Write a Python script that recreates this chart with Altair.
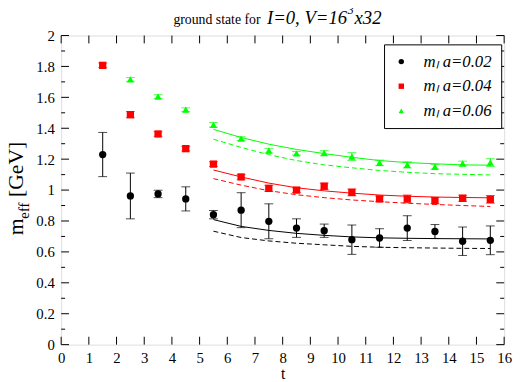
import altair as alt
import pandas as pd

# ---------------- data ----------------
series = ["m\u2097 a=0.02", "m\u2097 a=0.04", "m\u2097 a=0.06"]
keys = ["k002", "k004", "k006"]
colors = ["#000000", "#ff0000", "#00ff00"]
shapes = ["circle", "square", "triangle-up"]

t_002 = [1.5, 2.5, 3.5, 4.5, 5.5, 6.5, 7.5, 8.5, 9.5, 10.5, 11.5, 12.5, 13.5, 14.5, 15.5]
m_002 = [1.230, 0.962, 0.975, 0.943, 0.841, 0.870, 0.798, 0.754, 0.737, 0.679, 0.690, 0.754, 0.732, 0.669, 0.675]
e_002 = [0.143, 0.148, 0.024, 0.078, 0.027, 0.113, 0.113, 0.060, 0.043, 0.095, 0.060, 0.080, 0.045, 0.092, 0.093]

t_004 = [1.5, 2.5, 3.5, 4.5, 5.5, 6.5, 7.5, 8.5, 9.5, 10.5, 11.5, 12.5, 13.5, 14.5, 15.5]
m_004 = [1.807, 1.488, 1.363, 1.268, 1.168, 1.085, 1.011, 1.000, 1.025, 0.985, 0.943, 0.943, 0.932, 0.947, 0.940]
e_004 = [0.015, 0.020, 0.015, 0.015, 0.015, 0.015, 0.020, 0.015, 0.020, 0.022, 0.018, 0.025, 0.020, 0.020, 0.025]

t_006 = [2.5, 3.5, 4.5, 5.5, 6.5, 7.5, 8.5, 9.5, 10.5, 11.5, 12.5, 13.5, 14.5, 15.5]
m_006 = [1.716, 1.605, 1.520, 1.422, 1.333, 1.255, 1.238, 1.240, 1.217, 1.176, 1.163, 1.151, 1.172, 1.178]
e_006 = [0.012, 0.012, 0.012, 0.015, 0.012, 0.015, 0.012, 0.015, 0.025, 0.018, 0.020, 0.015, 0.015, 0.025]

t_fit = [5.5, 6.5, 7.5, 8.5, 9.5, 10.5, 11.5, 12.5, 13.5, 14.5, 15.5]
solid_002 = [0.809, 0.765, 0.739, 0.720, 0.707, 0.697, 0.691, 0.688, 0.686, 0.685, 0.684]
dash_002 = [0.734, 0.693, 0.671, 0.656, 0.646, 0.636, 0.630, 0.627, 0.625, 0.623, 0.622]
solid_004 = [1.130, 1.085, 1.045, 1.015, 0.995, 0.980, 0.968, 0.960, 0.955, 0.952, 0.950]
dash_004 = [1.074, 1.032, 0.996, 0.970, 0.951, 0.936, 0.925, 0.915, 0.907, 0.900, 0.894]
solid_006 = [1.393, 1.340, 1.297, 1.263, 1.236, 1.212, 1.191, 1.178, 1.170, 1.163, 1.161]
dash_006 = [1.329, 1.276, 1.229, 1.191, 1.163, 1.144, 1.127, 1.115, 1.106, 1.102, 1.098]

x_ticks = [0, 1, 2, 3, 4, 5, 6, 7, 8, 9, 10, 11, 12, 13, 14, 15, 16]
y_major = [0.0, 0.2, 0.4, 0.6, 0.8, 1.0, 1.2, 1.4, 1.6, 1.8, 2.0]
y_minor = [0.1, 0.3, 0.5, 0.7, 0.9, 1.1, 1.3, 1.5, 1.7, 1.9]

# ---------------- tables ----------------
pts = pd.concat([
    pd.DataFrame({"t": t, "m": m, "err": e, "s": s, "key": k})
    for t, m, e, s, k in [(t_002, m_002, e_002, series[0], keys[0]),
                          (t_004, m_004, e_004, series[1], keys[1]),
                          (t_006, m_006, e_006, series[2], keys[2])]
], ignore_index=True)
pts["lo"] = pts["m"] - pts["err"]
pts["hi"] = pts["m"] + pts["err"]

fits = pd.concat([
    pd.DataFrame({"t": t_fit, "m": v, "key": key, "k": k})
    for v, key, k in [(solid_002, keys[0], "solid"), (dash_002, keys[0], "dash"),
                      (solid_004, keys[1], "solid"), (dash_004, keys[1], "dash"),
                      (solid_006, keys[2], "solid"), (dash_006, keys[2], "dash")]
], ignore_index=True)

W, H = 450, 314
FONT = "Liberation Serif"

xs = alt.Scale(domain=[0, 16], nice=False, zero=False)
ys = alt.Scale(domain=[0, 2], nice=False, zero=False)
xaxis = alt.Axis(values=x_ticks, ticks=False, domain=False, grid=False, format="d",
                 labelFont=FONT, labelFontSize=15, labelPadding=6, labelFlush=False,
                 labelColor="black", title="t", titleFont=FONT, titleFontSize=16,
                 titleFontWeight="normal", titlePadding=0, titleColor="black")
yaxis = alt.Axis(values=y_major, ticks=False, domain=False, grid=False, format=".1~f",
                 labelFont=FONT, labelFontSize=15, labelPadding=7, labelFlush=False,
                 labelColor="black", title=None)
X = alt.X("t:Q", scale=xs, axis=xaxis)
Y = alt.Y("m:Q", scale=ys, axis=yaxis)
cscale = alt.Scale(domain=series, range=colors)
sscale = alt.Scale(domain=series, range=shapes)
kscale = alt.Scale(domain=keys, range=colors)
STROKE = alt.Stroke("key:N", scale=kscale, legend=None)
FILL = alt.Fill("key:N", scale=kscale, legend=None)

base = alt.Chart(pts)

errbars = base.mark_rule(strokeWidth=1).encode(
    x=X, y=alt.Y("lo:Q", scale=ys, axis=yaxis), y2="hi:Q", stroke=STROKE)
cap_lo = base.mark_tick(orient="horizontal", size=9, thickness=1, strokeWidth=0).encode(
    x=X, y=alt.Y("lo:Q", scale=ys, axis=yaxis), fill=FILL)
cap_hi = base.mark_tick(orient="horizontal", size=9, thickness=1, strokeWidth=0).encode(
    x=X, y=alt.Y("hi:Q", scale=ys, axis=yaxis), fill=FILL)

legend = alt.Legend(orient="none", legendX=328, legendY=9, title=None,
                    strokeColor="black", fillColor="white", padding=9,
                    labelFont=FONT, labelFontStyle="italic", labelFontSize=17,
                    labelColor="black", symbolSize=30, symbolStrokeWidth=0,
                    rowPadding=7, labelOffset=14, cornerRadius=0)
points = base.mark_point(filled=True, size=55, opacity=1).encode(
    x=X, y=Y,
    color=alt.Color("s:N", scale=cscale, legend=legend),
    shape=alt.Shape("s:N", scale=sscale, legend=legend))

solid = alt.Chart(fits).transform_filter(alt.datum.k == "solid").mark_line(strokeWidth=1).encode(
    x=X, y=Y, stroke=STROKE)
dashed = alt.Chart(fits).transform_filter(alt.datum.k == "dash").mark_line(
    strokeWidth=1, strokeDash=[5, 3]).encode(x=X, y=Y, stroke=STROKE)

# inward ticks
ymaj = alt.Chart(pd.DataFrame({"m": y_major}))
ymin = alt.Chart(pd.DataFrame({"m": y_minor}))
xt = alt.Chart(pd.DataFrame({"t": x_ticks}))
tk = dict(color="black", strokeWidth=1)
ticks = [
    ymaj.mark_rule(**tk).encode(y=Y, x=alt.value(0), x2=alt.value(8)),
    ymaj.mark_rule(**tk).encode(y=Y, x=alt.value(W), x2=alt.value(W - 8)),
    ymin.mark_rule(**tk).encode(y=Y, x=alt.value(0), x2=alt.value(4)),
    ymin.mark_rule(**tk).encode(y=Y, x=alt.value(W), x2=alt.value(W - 4)),
    xt.mark_rule(**tk).encode(x=X, y=alt.value(H), y2=alt.value(H - 8)),
    xt.mark_rule(**tk).encode(x=X, y=alt.value(0), y2=alt.value(8)),
]

# title and y-axis title pieces (annotation text)
def label(txt, x, y, size, style="normal", angle=0):
    return alt.Chart(pd.DataFrame({"txt": [txt]})).mark_text(
        x=x, y=y, align="left", baseline="alphabetic", font=FONT, fontSize=size,
        fontStyle=style, angle=angle, color="black").encode(text="txt:N")

texts = [
    label("ground state for", 114, -12, 14),
    label("I=0, V=16", 209, -12, 19, "italic"),
    label("3", 291, -22, 12, "italic"),
    label("x32", 298, -12, 19, "italic"),
    label("m", -39, 203, 22, "normal", 270),
    label("eff", -33, 186, 15, "normal", 270),
    label("[GeV]", -39, 164, 22, "normal", 270),
]

chart = alt.layer(
    *ticks, errbars, cap_lo, cap_hi, solid, dashed, points, *texts
).resolve_scale(x="shared", y="shared").properties(
    width=W, height=H,
    autosize=alt.AutoSizeParams(type="none"),
    padding={"left": 54, "top": 25, "right": 10, "bottom": 35},
).configure_view(stroke="black", strokeWidth=1).configure(background="white")

chart.save("out.html", embed_options={"renderer": "svg", "actions": False})
